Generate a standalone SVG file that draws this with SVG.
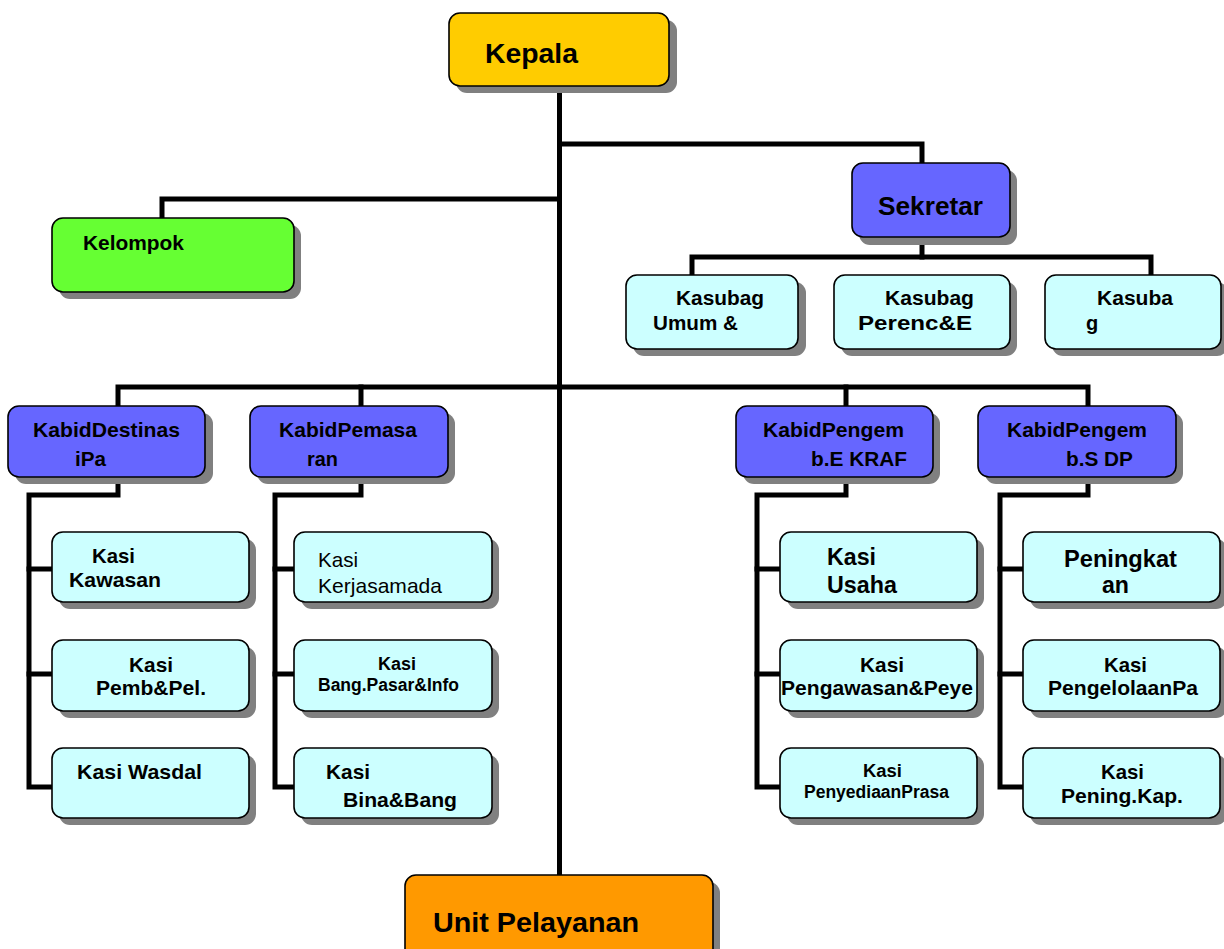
<svg xmlns="http://www.w3.org/2000/svg" width="1224" height="949" viewBox="0 0 1224 949">
<defs>
<style>
.sh{fill:#808080;}
.bx{stroke:#000;stroke-width:1.6;}
.k{fill:#FFCC00;}
.s{fill:#6666FF;}
.c{fill:#CCFFFF;}
.g{fill:#66FF33;}
.o{fill:#FF9900;}
text{font-family:"Liberation Sans",Arial,sans-serif;font-weight:bold;fill:#000;}
.r{font-weight:normal;}
.cn{fill:none;stroke:#000;stroke-width:5;stroke-linejoin:miter;stroke-linecap:square;}
</style>
</defs>
<rect width="1224" height="949" fill="#fff"/>
<g id="connectors" class="cn">
<path d="M559.5 87V876"/>
<path d="M559.5 144H922V163"/>
<path d="M559.5 199H162V218"/>
<path d="M922 237V257"/>
<path d="M692 275V257H1151V275"/>
<path d="M118 405V387H1088V405"/>
<path d="M361 387V405"/>
<path d="M846 387V405"/>
<path d="M118 477V495H29V787H52"/>
<path d="M29 569H52M29 674H52"/>
<path d="M361 477V495H275V787H294"/>
<path d="M275 569H294M275 674H294"/>
<path d="M846 477V495H757V787H780"/>
<path d="M757 569H780M757 674H780"/>
<path d="M1088 477V495H1000V787H1023"/>
<path d="M1000 569H1023M1000 674H1023"/>
</g>
<g id="kepala"><rect class="sh" x="456" y="20" width="221" height="73" rx="11"/><rect class="bx k" x="449" y="13" width="220" height="73" rx="11"/><text x="485" y="63" font-size="27" textLength="93" lengthAdjust="spacingAndGlyphs">Kepala</text></g>
<g id="sekretar"><rect class="sh" x="859" y="170" width="158" height="75" rx="11"/><rect class="bx s" x="852" y="163" width="158" height="74" rx="11"/><text x="878" y="215" font-size="25" textLength="105" lengthAdjust="spacingAndGlyphs">Sekretar</text></g>
<g id="kelompok"><rect class="sh" x="59" y="225" width="242" height="74" rx="11"/><rect class="bx g" x="52" y="218" width="242" height="74" rx="11"/><text x="83" y="250" font-size="20" textLength="101" lengthAdjust="spacingAndGlyphs">Kelompok</text></g>
<g id="kasubag1"><rect class="sh" x="633" y="282" width="173" height="74" rx="11"/><rect class="bx c" x="626" y="275" width="172" height="74" rx="11"/><text x="676" y="305" font-size="20" textLength="88" lengthAdjust="spacingAndGlyphs">Kasubag</text><text x="653" y="330" font-size="20" textLength="85" lengthAdjust="spacingAndGlyphs">Umum &amp;</text></g>
<g id="kasubag2"><rect class="sh" x="841" y="282" width="176" height="74" rx="11"/><rect class="bx c" x="834" y="275" width="176" height="74" rx="11"/><text x="885" y="305" font-size="20" textLength="89" lengthAdjust="spacingAndGlyphs">Kasubag</text><text x="858" y="330" font-size="20" textLength="114" lengthAdjust="spacingAndGlyphs">Perenc&amp;E</text></g>
<g id="kasubag3"><rect class="sh" x="1052" y="282" width="176" height="74" rx="11"/><rect class="bx c" x="1045" y="275" width="176" height="74" rx="11"/><text x="1097" y="305" font-size="20" textLength="76" lengthAdjust="spacingAndGlyphs">Kasuba</text><text x="1086" y="330" font-size="20">g</text></g>
<g id="kabid1"><rect class="sh" x="15" y="413" width="198" height="71" rx="11"/><rect class="bx s" x="8" y="406" width="197" height="71" rx="11"/><text x="33" y="437" font-size="21" textLength="147" lengthAdjust="spacingAndGlyphs">KabidDestinas</text><text x="75" y="466" font-size="21" textLength="31" lengthAdjust="spacingAndGlyphs">iPa</text></g>
<g id="kabid2"><rect class="sh" x="257" y="413" width="198" height="71" rx="11"/><rect class="bx s" x="250" y="406" width="198" height="71" rx="11"/><text x="279" y="437" font-size="21" textLength="138" lengthAdjust="spacingAndGlyphs">KabidPemasa</text><text x="307" y="466" font-size="21" textLength="31" lengthAdjust="spacingAndGlyphs">ran</text></g>
<g id="kabid3"><rect class="sh" x="743" y="413" width="197" height="71" rx="11"/><rect class="bx s" x="736" y="406" width="197" height="71" rx="11"/><text x="763" y="437" font-size="21" textLength="141" lengthAdjust="spacingAndGlyphs">KabidPengem</text><text x="811" y="466" font-size="21" textLength="96" lengthAdjust="spacingAndGlyphs">b.E KRAF</text></g>
<g id="kabid4"><rect class="sh" x="985" y="413" width="198" height="71" rx="11"/><rect class="bx s" x="978" y="406" width="198" height="71" rx="11"/><text x="1007" y="437" font-size="21" textLength="140" lengthAdjust="spacingAndGlyphs">KabidPengem</text><text x="1066" y="466" font-size="21" textLength="67" lengthAdjust="spacingAndGlyphs">b.S DP</text></g>
<g id="kasi1a"><rect class="sh" x="59" y="539" width="197" height="70" rx="11"/><rect class="bx c" x="52" y="532" width="197" height="70" rx="11"/><text x="92" y="563" font-size="21" textLength="43" lengthAdjust="spacingAndGlyphs">Kasi</text><text x="69" y="587" font-size="21" textLength="92" lengthAdjust="spacingAndGlyphs">Kawasan</text></g>
<g id="kasi1b"><rect class="sh" x="59" y="647" width="197" height="71" rx="11"/><rect class="bx c" x="52" y="640" width="197" height="71" rx="11"/><text x="129" y="672" font-size="21" textLength="44" lengthAdjust="spacingAndGlyphs">Kasi</text><text x="96" y="695" font-size="21" textLength="110" lengthAdjust="spacingAndGlyphs">Pemb&amp;Pel.</text></g>
<g id="kasi1c"><rect class="sh" x="59" y="755" width="197" height="70" rx="11"/><rect class="bx c" x="52" y="748" width="197" height="70" rx="11"/><text x="77" y="779" font-size="21" textLength="125" lengthAdjust="spacingAndGlyphs">Kasi Wasdal</text></g>
<g id="kasi2a"><rect class="sh" x="301" y="539" width="198" height="70" rx="11"/><rect class="bx c" x="294" y="532" width="198" height="70" rx="11"/><text class="r" x="318" y="567" font-size="21" textLength="40" lengthAdjust="spacingAndGlyphs">Kasi</text><text class="r" x="318" y="593" font-size="21" textLength="124" lengthAdjust="spacingAndGlyphs">Kerjasamada</text></g>
<g id="kasi2b"><rect class="sh" x="301" y="647" width="198" height="71" rx="11"/><rect class="bx c" x="294" y="640" width="198" height="71" rx="11"/><text x="378" y="670" font-size="17.5" textLength="38" lengthAdjust="spacingAndGlyphs">Kasi</text><text x="318" y="691" font-size="17.5" textLength="141" lengthAdjust="spacingAndGlyphs">Bang.Pasar&amp;Info</text></g>
<g id="kasi2c"><rect class="sh" x="301" y="755" width="198" height="70" rx="11"/><rect class="bx c" x="294" y="748" width="198" height="70" rx="11"/><text x="326" y="779" font-size="21" textLength="44" lengthAdjust="spacingAndGlyphs">Kasi</text><text x="343" y="807" font-size="21" textLength="114" lengthAdjust="spacingAndGlyphs">Bina&amp;Bang</text></g>
<g id="kasi3a"><rect class="sh" x="787" y="539" width="197" height="70" rx="11"/><rect class="bx c" x="780" y="532" width="197" height="70" rx="11"/><text x="827" y="565" font-size="23" textLength="49" lengthAdjust="spacingAndGlyphs">Kasi</text><text x="827" y="593" font-size="23" textLength="70" lengthAdjust="spacingAndGlyphs">Usaha</text></g>
<g id="kasi3b"><rect class="sh" x="787" y="647" width="197" height="71" rx="11"/><rect class="bx c" x="780" y="640" width="197" height="71" rx="11"/><text x="860" y="672" font-size="21" textLength="44" lengthAdjust="spacingAndGlyphs">Kasi</text><text x="781" y="695" font-size="21" textLength="192" lengthAdjust="spacingAndGlyphs">Pengawasan&amp;Peye</text></g>
<g id="kasi3c"><rect class="sh" x="787" y="755" width="197" height="70" rx="11"/><rect class="bx c" x="780" y="748" width="197" height="70" rx="11"/><text x="863" y="777" font-size="17.5" textLength="39" lengthAdjust="spacingAndGlyphs">Kasi</text><text x="804" y="798" font-size="17.5" textLength="145" lengthAdjust="spacingAndGlyphs">PenyediaanPrasa</text></g>
<g id="kasi4a"><rect class="sh" x="1030" y="539" width="197" height="70" rx="11"/><rect class="bx c" x="1023" y="532" width="197" height="70" rx="11"/><text x="1064" y="567" font-size="23" textLength="113" lengthAdjust="spacingAndGlyphs">Peningkat</text><text x="1102" y="593" font-size="23" textLength="27" lengthAdjust="spacingAndGlyphs">an</text></g>
<g id="kasi4b"><rect class="sh" x="1030" y="647" width="197" height="71" rx="11"/><rect class="bx c" x="1023" y="640" width="197" height="71" rx="11"/><text x="1104" y="672" font-size="21" textLength="43" lengthAdjust="spacingAndGlyphs">Kasi</text><text x="1048" y="695" font-size="21" textLength="150" lengthAdjust="spacingAndGlyphs">PengelolaanPa</text></g>
<g id="kasi4c"><rect class="sh" x="1030" y="755" width="197" height="70" rx="11"/><rect class="bx c" x="1023" y="748" width="197" height="70" rx="11"/><text x="1101" y="779" font-size="21" textLength="43" lengthAdjust="spacingAndGlyphs">Kasi</text><text x="1061" y="803" font-size="21" textLength="122" lengthAdjust="spacingAndGlyphs">Pening.Kap.</text></g>
<g id="unit"><rect class="sh" x="412" y="882" width="308" height="90" rx="11"/><rect class="bx o" x="405" y="875" width="308" height="90" rx="11"/><text x="433" y="932" font-size="28" textLength="206" lengthAdjust="spacingAndGlyphs">Unit Pelayanan</text></g>
</svg>
